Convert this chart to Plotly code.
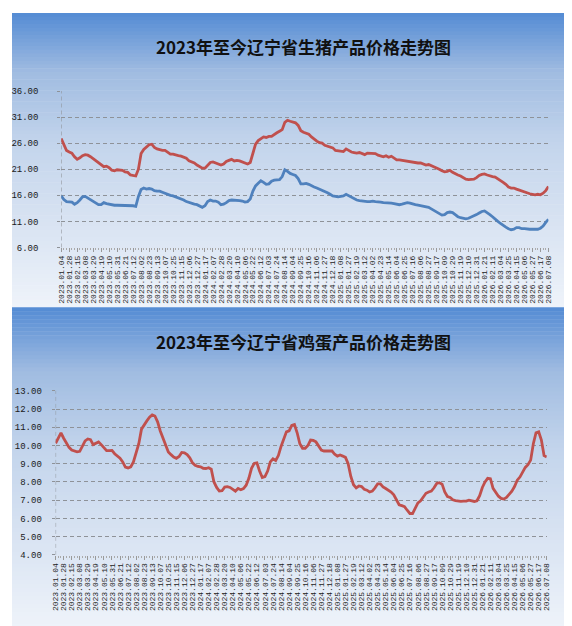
import plotly.graph_objects as go

# x-axis labels (every third weekly observation)
tick_labels = [
    '2023.01.04', '2023.01.28', '2023.02.15', '2023.03.08', '2023.03.29', '2023.04.19',
    '2023.05.10', '2023.05.31', '2023.06.21', '2023.07.12', '2023.08.02', '2023.08.23',
    '2023.09.13', '2023.10.07', '2023.10.25', '2023.11.15', '2023.12.06', '2023.12.27',
    '2024.01.17', '2024.02.07', '2024.02.28', '2024.03.20', '2024.04.10', '2024.05.06',
    '2024.05.22', '2024.06.12', '2024.07.03', '2024.07.24', '2024.08.14', '2024.09.04',
    '2024.09.25', '2024.10.16', '2024.11.06', '2024.11.27', '2024.12.18',
    '2025.01.08', '2025.01.27', '2025.02.19', '2025.03.12', '2025.04.02', '2025.04.23',
    '2025.05.14', '2025.06.04', '2025.06.25', '2025.07.16', '2025.08.06', '2025.08.27',
    '2025.09.17', '2025.10.09', '2025.10.29', '2025.11.19', '2025.12.10', '2025.12.31',
    '2026.01.21', '2026.02.11', '2026.03.04', '2026.03.25', '2026.04.15', '2026.05.06',
    '2026.05.27', '2026.06.17', '2026.07.08',
]

# 猪肉 (red)
pork_price = [
    26.9, 25.8, 24.6, 24.3, 24.1, 23.4, 22.9, 23.2, 23.6, 23.8,
    23.7, 23.4, 23.0, 22.6, 22.2, 21.8, 21.5, 21.6, 21.3, 20.8,
    20.7, 20.9, 20.8, 20.8, 20.5, 20.4, 19.9, 19.8, 19.7, 21.0,
    24.0, 24.8, 25.2, 25.7, 25.8, 25.2, 24.9, 24.7, 24.6, 24.6,
    24.2, 23.9, 23.9, 23.7, 23.6, 23.5, 23.3, 23.1, 22.6, 22.4,
    22.2, 21.8, 21.5, 21.2, 21.2, 21.7, 22.3, 22.4, 22.2, 22.1,
    21.8, 22.0, 22.5, 22.7, 22.9, 22.6, 22.7, 22.6, 22.4, 22.1,
    22.0, 22.3, 24.0, 25.8, 26.5, 26.9, 27.2, 27.1, 27.3, 27.3,
    27.7, 28.0, 28.3, 28.6, 30.0, 30.4, 30.2, 30.1, 29.9, 29.4,
    28.4, 28.1, 27.9, 27.7, 27.2, 26.7, 26.4, 26.1, 26.0, 25.6,
    25.4, 25.2, 25.1, 24.6, 24.5, 24.5, 24.4, 24.9, 24.6, 24.3,
    24.2, 24.1, 24.2, 24.0, 23.8, 24.1, 24.1, 24.1, 24.0, 23.7,
    23.5, 23.4, 23.6, 23.3, 23.5, 23.1, 22.8, 22.8, 22.7, 22.6,
    22.5, 22.5, 22.4, 22.3, 22.2, 22.2, 22.0, 21.8, 21.9, 21.7,
    21.4, 21.2, 21.0, 20.7, 20.5, 20.6, 20.8, 20.4, 20.1, 19.9,
    19.7, 19.4, 19.1, 19.0, 19.0, 19.1, 19.4, 19.8, 20.0, 20.1,
    19.9, 19.7, 19.6, 19.5, 19.2, 18.9, 18.5, 18.1, 17.6, 17.4,
    17.4, 17.2, 17.0, 16.9, 16.7, 16.5, 16.3, 16.2, 16.1, 16.2,
    16.1, 16.4, 16.9, 17.7,
]

# 生猪 (blue)
hog_price = [
    15.9, 15.2, 14.8, 14.7, 14.7, 14.3, 14.6, 15.1, 15.7, 15.8,
    15.5, 15.2, 14.9, 14.5, 14.2, 14.2, 14.6, 14.4, 14.3, 14.1,
    14.1, 14.1, 14.1, 14.1, 14.1, 14.0, 14.0, 14.0, 13.9, 15.8,
    17.1, 17.4, 17.2, 17.3, 17.2, 16.9, 16.8, 16.8, 16.6, 16.4,
    16.1, 16.0, 15.9, 15.7, 15.6, 15.3, 15.1, 14.8, 14.6, 14.4,
    14.3, 14.2, 13.9, 13.7, 14.0, 14.8, 15.1, 14.9, 14.9, 14.7,
    14.2, 14.3, 14.6, 15.0, 15.1, 15.1, 15.1, 15.0, 14.9, 14.7,
    14.8, 15.3, 16.8, 17.8, 18.3, 18.8, 18.5, 18.1, 18.2, 18.7,
    18.9, 18.9, 19.0, 19.6, 20.9, 20.6, 20.2, 20.0, 19.8, 19.2,
    18.2, 18.2, 18.3, 18.1, 17.8, 17.6, 17.4, 17.2, 17.0, 16.8,
    16.5, 16.2, 15.9, 15.8, 15.7, 15.8, 15.9, 16.2, 15.9, 15.6,
    15.3, 15.1, 15.0, 14.9, 14.8, 14.8, 14.8, 14.9, 14.8, 14.8,
    14.7, 14.6, 14.6, 14.6, 14.5, 14.4, 14.3, 14.2, 14.3, 14.5,
    14.6, 14.5, 14.3, 14.2, 14.1, 14.0, 13.8, 13.7, 13.7, 13.4,
    13.1, 12.8, 12.5, 12.2, 12.3, 12.7, 12.8, 12.7, 12.3, 11.9,
    11.7, 11.6, 11.5, 11.6, 11.8, 12.1, 12.3, 12.6, 12.9, 13.0,
    12.7, 12.3, 11.9, 11.4, 11.0, 10.6, 10.2, 9.9, 9.6, 9.4,
    9.5, 9.8, 9.8, 9.6, 9.6, 9.5, 9.5, 9.5, 9.5, 9.5,
    9.7, 10.1, 10.8, 11.4,
]

# 鸡蛋 (red)
egg_price = [
    10.12, 10.40, 10.70, 10.40, 10.15, 9.90, 9.75, 9.70, 9.65, 9.68,
    9.94, 10.25, 10.36, 10.32, 10.05, 10.15, 10.20, 10.05, 9.90, 9.72,
    9.72, 9.73, 9.55, 9.43, 9.30, 9.10, 8.82, 8.77, 8.83, 9.10,
    9.60, 10.10, 10.90, 11.15, 11.35, 11.55, 11.68, 11.62, 11.30, 10.80,
    10.40, 9.95, 9.65, 9.50, 9.37, 9.30, 9.40, 9.62, 9.60, 9.50,
    9.33, 9.05, 8.92, 8.85, 8.83, 8.75, 8.74, 8.78, 8.70, 8.00,
    7.70, 7.50, 7.52, 7.72, 7.74, 7.70, 7.60, 7.50, 7.64, 7.57,
    7.64, 7.82, 8.20, 8.75, 9.02, 9.05, 8.60, 8.25, 8.30, 8.60,
    9.10, 9.27, 9.18, 9.45, 9.95, 10.40, 10.75, 10.80, 11.10, 11.15,
    10.70, 10.10, 9.85, 9.85, 10.00, 10.30, 10.28, 10.20, 10.00, 9.75,
    9.70, 9.68, 9.70, 9.70, 9.52, 9.42, 9.48, 9.42, 9.35, 9.00,
    8.30, 7.85, 7.68, 7.78, 7.75, 7.60, 7.55, 7.45, 7.50, 7.68,
    7.90, 7.90, 7.73, 7.64, 7.55, 7.45, 7.30, 7.06, 6.75, 6.70,
    6.65, 6.45, 6.27, 6.27, 6.60, 6.85, 6.97, 7.20, 7.38, 7.45,
    7.50, 7.68, 7.92, 7.96, 7.88, 7.45, 7.20, 7.15, 7.02, 6.98,
    6.95, 6.94, 6.95, 6.95, 7.00, 6.97, 6.93, 6.97, 7.25, 7.70,
    8.00, 8.20, 8.18, 7.65, 7.42, 7.22, 7.10, 7.06, 7.15, 7.33,
    7.50, 7.75, 8.10, 8.27, 8.55, 8.80, 8.95, 9.20, 10.10, 10.70,
    10.75, 10.30, 9.45, 9.37,
]

titles = ['2023年至今辽宁省生猪产品价格走势图', '2023年至今辽宁省鸡蛋产品价格走势图']

W, H = 572, 626
RED = '#c0504d'
BLUE = '#4f81bd'
GRID = '#8e9298'
MONO = 'Liberation Mono, DejaVu Sans Mono, monospace'

x = list(range(len(pork_price)))
tickvals = x[::3]

fig = go.Figure()
fig.add_trace(go.Scatter(x=x, y=pork_price, mode='lines', name='猪肉',
                         line=dict(color=RED, width=2.8), xaxis='x', yaxis='y'))
fig.add_trace(go.Scatter(x=x, y=hog_price, mode='lines', name='生猪',
                         line=dict(color=BLUE, width=2.8), xaxis='x', yaxis='y'))
fig.add_trace(go.Scatter(x=x, y=egg_price, mode='lines', name='鸡蛋',
                         line=dict(color=RED, width=2.8), xaxis='x2', yaxis='y2'))


def gradient(t):
    stops = [(0.0, (84, 139, 212)), (0.2, (160, 188, 225)), (0.45, (196, 213, 236)),
             (0.75, (219, 229, 243)), (1.0, (238, 243, 250))]
    for (t0, c0), (t1, c1) in zip(stops[:-1], stops[1:]):
        if t <= t1:
            f = (t - t0) / (t1 - t0)
            return 'rgb(%d,%d,%d)' % tuple(round(a + (b - a) * f) for a, b in zip(c0, c1))
    return 'rgb(%d,%d,%d)' % stops[-1][1]


shapes = []
# panel backgrounds (top panel 0-300px, bottom panel 300-626px)
for top_px, bot_px in [(1, 300), (300, 626)]:
    n = 80
    step = (bot_px - top_px) / n
    for i in range(n):
        y0 = top_px + i * step
        y1 = y0 + step + 0.6
        shapes.append(dict(type='rect', xref='paper', yref='paper',
                           x0=0, x1=570 / W, y0=1 - y1 / H, y1=1 - y0 / H,
                           line=dict(width=0), fillcolor=gradient((i + 0.5) / n),
                           layer='below'))
# dashed left axis lines
for xr, yr in [('x', 'y'), ('x2', 'y2')]:
    shapes.append(dict(type='line', xref=xr, yref=yr + ' domain', x0=0, x1=0, y0=0, y1=1,
                       line=dict(color=GRID, width=1, dash='4px,3px'), layer='below'))

xcommon = dict(range=[0, len(x) - 1], tickmode='array', tickvals=tickvals,
               ticktext=tick_labels, tickangle=-90, showgrid=False, zeroline=False,
               showline=False, ticks='outside', ticklen=4, tickcolor='#999999',
               minor=dict(dtick=1, tick0=0, ticks='outside', ticklen=2, tickcolor='#aaaaaa'),
               tickfont=dict(family=MONO, size=8, color='#222222'))
ycommon = dict(showgrid=True, gridcolor=GRID, griddash='4px,3px', gridwidth=1,
               zeroline=False, showline=False, ticks='outside', ticklen=3,
               tickcolor=GRID, tickformat='.2f',
               tickfont=dict(family=MONO, size=9, color='#1a1a1a'))

fig.update_layout(
    width=W, height=H,
    margin=dict(l=0, r=0, t=0, b=0),
    paper_bgcolor='white', plot_bgcolor='rgba(0,0,0,0)',
    showlegend=False,
    shapes=shapes,
    xaxis=dict(domain=[50 / W, 545 / W], anchor='y', **xcommon),
    yaxis=dict(domain=[1 - 239.3 / H, 1 - 80.3 / H], anchor='x', range=[6, 36],
               tick0=6, dtick=5, ticklabelstandoff=17, **ycommon),
    xaxis2=dict(domain=[44.3 / W, 543.3 / W], anchor='y2', **xcommon),
    yaxis2=dict(domain=[1 - 551.7 / H, 1 - 385 / H], anchor='x2', range=[4, 13],
                tick0=4, dtick=1, ticklabelstandoff=8, **ycommon),
    annotations=[
        dict(text='<b>%s</b>' % titles[0], xref='paper', yref='paper', x=296 / W, y=1 - 35 / H,
             showarrow=False, xanchor='center', yanchor='middle',
             font=dict(family='Noto Sans CJK SC', size=17, color='#111111')),
        dict(text='<b>%s</b>' % titles[1], xref='paper', yref='paper', x=296 / W, y=1 - 335 / H,
             showarrow=False, xanchor='center', yanchor='middle',
             font=dict(family='Noto Sans CJK SC', size=17, color='#111111')),
    ],
)

fig.write_html('out.html')
